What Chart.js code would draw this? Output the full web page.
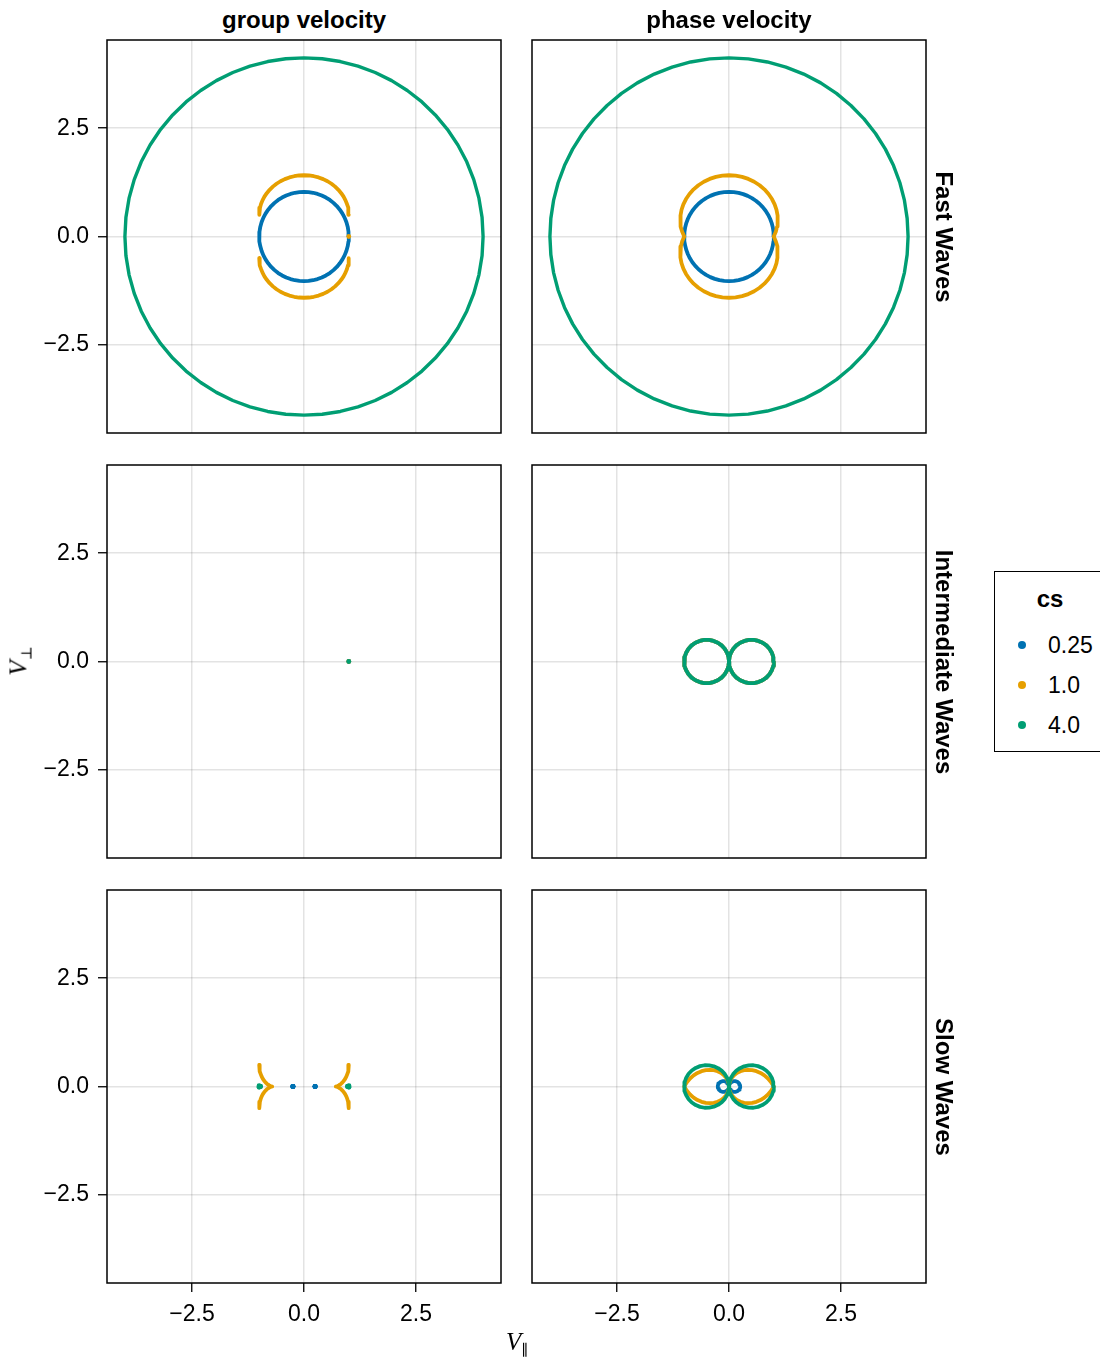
<!DOCTYPE html>
<html>
<head>
<meta charset="utf-8">
<script src="https://cdn.jsdelivr.net/npm/chart.js@4.4.1/dist/chart.umd.min.js"></script>
<style>
  html, body { margin: 0; padding: 0; background: #fff; }
  body { width: 1100px; height: 1359px; position: relative; overflow: hidden;
         font-family: "Liberation Sans", Arial, sans-serif; color: #000; }
  canvas.panel { position: absolute; }
  .title { position: absolute; font-weight: bold; font-size: 24px; white-space: nowrap;
           transform: translate(-50%, -50%); }
  .rowlab { position: absolute; font-weight: bold; font-size: 24px; white-space: nowrap;
            transform: translate(-50%, -50%) rotate(90deg); }
  .axlab { position: absolute; font-family: "Liberation Serif", "DejaVu Serif", serif;
           font-size: 25px; white-space: nowrap; }
  .axlab i { font-style: italic; }
  .axlab sub { font-style: normal; font-size: 15px; vertical-align: -5px; }
  #legend { position: absolute; left: 994px; top: 571px; width: 140px; height: 181px;
            border: 1.5px solid #000; box-sizing: border-box; background: #fff; }
  #legend .ltitle { position: absolute; left: 55px; top: 27px; font-weight: bold; font-size: 24px;
                    transform: translate(-50%, -50%); }
  #legend .entry { position: absolute; left: 0; height: 30px; width: 140px; }
  #legend .dot { position: absolute; left: 23px; width: 8px; height: 8px; border-radius: 50%;
                 top: 11px; }
  #legend .lab { position: absolute; left: 53px; top: 2px; font-size: 23px; }
</style>
</head>
<body>
<script>
// ---- data -------------------------------------------------------------
const csValues = ['0.25', '1.0', '4.0'];
const seriesColors = ['#0072B2', '#E69F00', '#009E73'];
const tickValues = [-2.5, 0, 2.5];
const columnTitles = ['group velocity', 'phase velocity'];
const rowTitles = ['Fast Waves', 'Intermediate Waves', 'Slow Waves'];

// propagation angle to the field, first quadrant (degrees)
const angleDeg = [0, 6, 12, 18, 24, 30, 36, 42, 48, 54, 60, 66, 72, 78, 84, 90];

// phase speeds at each angle
const fastPhase025 = [1.000, 1.000, 1.001, 1.003, 1.005, 1.008, 1.011, 1.014, 1.018, 1.021, 1.024, 1.026, 1.028, 1.030, 1.030, 1.031];
const fastPhase1   = [1.000, 1.051, 1.099, 1.144, 1.186, 1.225, 1.260, 1.292, 1.320, 1.345, 1.366, 1.383, 1.397, 1.406, 1.412, 1.414];
const fastPhase4   = [4.000, 4.001, 4.006, 4.013, 4.022, 4.033, 4.045, 4.058, 4.070, 4.083, 4.094, 4.104, 4.112, 4.118, 4.122, 4.123];
const interPhase   = [1.000, 0.995, 0.978, 0.951, 0.914, 0.866, 0.809, 0.743, 0.669, 0.588, 0.500, 0.407, 0.309, 0.208, 0.105, 0.000];
const slowPhase025 = [0.250, 0.249, 0.244, 0.237, 0.227, 0.215, 0.200, 0.183, 0.164, 0.144, 0.122, 0.099, 0.075, 0.051, 0.025, 0.000];
const slowPhase1   = [1.000, 0.946, 0.890, 0.831, 0.770, 0.707, 0.642, 0.575, 0.507, 0.437, 0.366, 0.294, 0.221, 0.148, 0.074, 0.000];
const slowPhase4   = [1.000, 0.994, 0.977, 0.948, 0.909, 0.859, 0.800, 0.733, 0.658, 0.576, 0.489, 0.396, 0.301, 0.202, 0.102, 0.000];

// group velocity vectors [V_par, V_perp], first quadrant
const fastGroup025 = [[1.000,0.000],[0.994,0.111],[0.977,0.221],[0.948,0.328],[0.909,0.431],[0.859,0.528],[0.800,0.619],[0.733,0.702],[0.658,0.776],[0.577,0.843],[0.490,0.899],[0.397,0.946],[0.302,0.983],[0.203,1.009],[0.102,1.025],[0.000,1.031]];
const fastGroup1   = [[1.000,0.500],[0.996,0.580],[0.983,0.664],[0.960,0.749],[0.927,0.834],[0.884,0.919],[0.831,1.000],[0.768,1.078],[0.695,1.151],[0.614,1.217],[0.525,1.275],[0.428,1.324],[0.326,1.363],[0.220,1.391],[0.111,1.408],[0.000,1.414]];
const fastGroup4   = [[4.000,0.000],[3.977,0.446],[3.907,0.885],[3.792,1.313],[3.635,1.724],[3.437,2.112],[3.202,2.474],[2.933,2.806],[2.634,3.106],[2.307,3.370],[1.958,3.597],[1.590,3.785],[1.206,3.932],[0.811,4.038],[0.407,4.102],[0.000,4.123]];
const fastGroup1Axis = [[1.000,0.000]];
const interGroup   = [[1.000,0.000]];
const slowGroup025 = [[0.250,0.000],[0.251,-0.005],[0.247,-0.002],[0.243,0.000]];
const slowGroup1   = [[1.000,-0.500],[0.996,-0.424],[0.985,-0.352],[0.967,-0.287],[0.945,-0.228],[0.919,-0.177],[0.890,-0.132],[0.860,-0.095],[0.830,-0.065],[0.801,-0.042],[0.775,-0.025],[0.751,-0.013],[0.733,-0.005],[0.719,-0.002],[0.710,0.000],[0.707,0.000]];
const slowGroup4   = [[1.000,0.000],[1.004,-0.020],[0.988,-0.006],[0.970,0.000]];

// ---- geometry helpers ----------------------------------------------------
const toPts = arr => arr.map(([x, y]) => ({ x, y }));
const polar = speeds => angleDeg.map((a, i) => ({
  x: speeds[i] * Math.cos(a * Math.PI / 180),
  y: speeds[i] * Math.sin(a * Math.PI / 180)
}));
const flip = (pts, sx, sy) => pts.map(p => ({ x: sx * p.x, y: sy * p.y }));
const rev = pts => pts.slice().reverse();
// close a first-quadrant curve into the full symmetric figure
const closedLoop = q1 => [...q1, ...rev(flip(q1, -1, 1)), ...flip(q1, -1, -1), ...rev(flip(q1, 1, -1)), q1[0]];
const fourFold = q1 => [...q1, ...flip(q1, -1, 1), ...flip(q1, -1, -1), ...flip(q1, 1, -1)];

const LINE_W = 3.8;
function lineSet(points, k, width) {
  return { data: points, showLine: true, borderColor: seriesColors[k], backgroundColor: seriesColors[k],
           borderWidth: width || LINE_W, pointRadius: 0, borderCapStyle: 'round', borderJoinStyle: 'round',
           order: 3 - k };
}
function dotSet(points, k) {
  return { data: points, showLine: false, pointRadius: 2.4, pointBorderWidth: 0,
           backgroundColor: seriesColors[k], borderColor: seriesColors[k], order: 3 - k };
}

// ---- panel contents --------------------------------------------------------
const fg1 = toPts(fastGroup1);
const sg1 = toPts(slowGroup1);
const panelSets = [
  [ // fast, group
    lineSet(closedLoop(toPts(fastGroup025)), 0),
    lineSet([...fg1, ...rev(flip(fg1, -1, 1))], 1),
    lineSet([...flip(fg1, -1, -1), ...rev(flip(fg1, 1, -1))], 1),
    dotSet(toPts(fastGroup1Axis), 1),
    lineSet(closedLoop(toPts(fastGroup4)), 2, 3.4)
  ],
  [ // fast, phase
    lineSet(closedLoop(polar(fastPhase025)), 0),
    lineSet(closedLoop(polar(fastPhase1)), 1),
    lineSet(closedLoop(polar(fastPhase4)), 2, 3.4)
  ],
  [ // intermediate, group
    dotSet(toPts(interGroup), 0),
    dotSet(toPts(interGroup), 1),
    dotSet(toPts(interGroup), 2)
  ],
  [ // intermediate, phase
    lineSet(closedLoop(polar(interPhase)), 0),
    lineSet(closedLoop(polar(interPhase)), 1),
    lineSet(closedLoop(polar(interPhase)), 2)
  ],
  [ // slow, group
    dotSet(fourFold(toPts(slowGroup025)), 0),
    lineSet([...flip(sg1, 1, -1), ...rev(sg1)], 1),
    lineSet([...flip(sg1, -1, -1), ...rev(flip(sg1, -1, 1))], 1),
    dotSet(fourFold(toPts(slowGroup4)), 2)
  ],
  [ // slow, phase
    lineSet(closedLoop(polar(slowPhase025)), 0),
    lineSet(closedLoop(polar(slowPhase1)), 1),
    lineSet(closedLoop(polar(slowPhase4)), 2)
  ]
];

// ---- layout ---------------------------------------------------------------
const PANEL_LEFT = [107, 532], PANEL_TOP = [40, 465, 890];
const PANEL_W = 394, PANEL_H = 393;
const AXIS_W = 100, AXIS_H = 70, PAD_T = 6, PAD_R = 6;
const TICK_FONT = { family: '"Liberation Sans", Arial, sans-serif', size: 23 };

const framePlugin = {
  id: 'frame',
  afterDraw(chart) {
    const { ctx, chartArea: a } = chart;
    ctx.save();
    ctx.strokeStyle = '#000';
    ctx.lineWidth = 1.5;
    ctx.strokeRect(a.left, a.top, a.right - a.left, a.bottom - a.top);
    ctx.restore();
  }
};

const fmtTick = v => v === 0 ? '0.0' : (v < 0 ? '\u2212' : '') + Math.abs(v).toFixed(1);

function axis(min, max, showTicks, isX) {
  return {
    type: 'linear', min, max,
    afterBuildTicks: s => { s.ticks = tickValues.map(v => ({ value: v })); },
    afterFit: s => {
      if (isX) s.height = AXIS_H; else s.width = AXIS_W;
      s.paddingTop = 0; s.paddingBottom = 0; s.paddingLeft = 0; s.paddingRight = 0;
    },
    border: { display: false },
    grid: { color: 'rgba(0,0,0,0.11)', lineWidth: 1.5, drawTicks: showTicks, tickLength: 9,
            tickColor: '#000', tickWidth: 1.3 },
    ticks: { display: showTicks, font: TICK_FONT, color: '#000', padding: 9,
             maxRotation: 0, autoSkip: false, callback: fmtTick }
  };
}

for (let r = 0; r < 3; r++) {
  for (let c = 0; c < 2; c++) {
    const cv = document.createElement('canvas');
    cv.className = 'panel';
    cv.width = AXIS_W + PANEL_W + PAD_R;
    cv.height = PAD_T + PANEL_H + AXIS_H;
    cv.style.left = (PANEL_LEFT[c] - AXIS_W) + 'px';
    cv.style.top = (PANEL_TOP[r] - PAD_T) + 'px';
    document.body.appendChild(cv);
    new Chart(cv, {
      type: 'scatter',
      data: { datasets: panelSets[r * 2 + c] },
      options: {
        responsive: false, animation: false, devicePixelRatio: 1,
        layout: { padding: { top: PAD_T, right: PAD_R, left: 0, bottom: 0 } },
        plugins: { legend: { display: false }, tooltip: { enabled: false } },
        elements: { line: { tension: 0 } },
        scales: {
          x: axis(-4.4, 4.4, r === 2, true),
          y: axis(-4.535, 4.535, c === 0, false)
        }
      },
      plugins: [framePlugin]
    });
  }
}

// ---- text ---------------------------------------------------------------
function addDiv(cls, html, x, y) {
  const d = document.createElement('div');
  d.className = cls;
  d.innerHTML = html;
  d.style.left = x + 'px';
  d.style.top = y + 'px';
  document.body.appendChild(d);
  return d;
}
columnTitles.forEach((t, c) => addDiv('title', t, PANEL_LEFT[c] + PANEL_W / 2, 20));
rowTitles.forEach((t, r) => addDiv('rowlab', t, 944, PANEL_TOP[r] + PANEL_H / 2));

const xl = addDiv('axlab', '<i>V</i><sub>\u2225</sub>', 517, 1343);
xl.style.transform = 'translate(-50%, -50%)';
const yl = addDiv('axlab', '<i>V</i><sub>\u22A5</sub>', 20, 661);
yl.style.transform = 'translate(-50%, -50%) rotate(-90deg)';

// legend
const lg = document.createElement('div');
lg.id = 'legend';
lg.innerHTML = '<div class="ltitle">cs</div>';
csValues.forEach((v, k) => {
  const e = document.createElement('div');
  e.className = 'entry';
  e.style.top = (58 + 40 * k) + 'px';
  e.innerHTML = '<div class="dot" style="background:' + seriesColors[k] + '"></div><div class="lab">' + v + '</div>';
  lg.appendChild(e);
});
document.body.appendChild(lg);
</script>
</body>
</html>
